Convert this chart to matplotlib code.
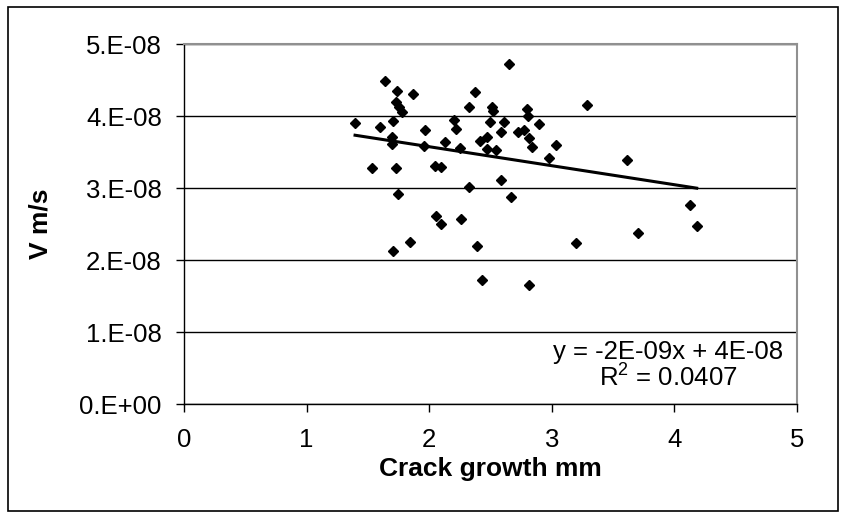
import numpy as np
import matplotlib.pyplot as plt
from matplotlib.ticker import FuncFormatter, MultipleLocator
from matplotlib.patches import Rectangle

# crack growth (mm) and crack velocity (x1e-8 m/s)
crack_growth = [1.639, 1.735, 1.870, 1.727, 1.754, 1.776, 1.395, 1.599, 1.707, 1.966,
                1.694, 1.694, 1.955, 2.131, 1.531, 1.725, 2.047, 2.096, 1.748, 2.058,
                2.099, 1.843, 1.707, 2.374, 2.325, 2.202, 2.216, 2.254, 2.414, 2.325,
                2.257, 2.387, 2.515, 2.523, 2.795, 2.808, 3.290, 2.496, 2.610, 2.896,
                2.586, 2.727, 2.773, 2.474, 2.814, 2.474, 2.542, 2.841, 3.032, 2.977,
                3.616, 2.583, 2.665, 3.195, 3.701, 2.433, 2.814, 4.127, 4.182, 2.650]
velocity_e8 = [4.481, 4.351, 4.306, 4.194, 4.133, 4.050, 3.903, 3.847, 3.935, 3.804,
               3.703, 3.615, 3.588, 3.639, 3.282, 3.282, 3.303, 3.300, 2.917, 2.619,
               2.508, 2.258, 2.133, 4.328, 4.133, 3.939, 3.824, 3.556, 3.657, 3.022,
               2.569, 2.199, 4.133, 4.064, 4.097, 4.004, 4.157, 3.911, 3.917, 3.893,
               3.778, 3.786, 3.810, 3.703, 3.694, 3.546, 3.528, 3.569, 3.592, 3.417,
               3.393, 3.115, 2.875, 2.244, 2.375, 1.722, 1.657, 2.768, 2.481, 4.720]

x = np.array(crack_growth)
y = np.array(velocity_e8) * 1e-8

plt.rcParams['font.family'] = ['Liberation Sans', 'DejaVu Sans']

fig = plt.figure(figsize=(8.45, 5.18), dpi=100)
ax = fig.add_axes([0.2178, 0.2195, 0.7254, 0.6955])

# linear trendline over the data range
slope, intercept = np.polyfit(x, y, 1)
xs = np.array([x.min(), x.max()])
ax.plot(xs, slope * xs + intercept, color='black', lw=2.2, zorder=3)
ax.plot(x, y, 'D', color='black', ms=5, zorder=4)

ax.set_xlim(0, 5)
ax.set_ylim(0, 5e-8)
ax.xaxis.set_major_locator(MultipleLocator(1))
ax.yaxis.set_major_locator(MultipleLocator(1e-8))
ax.yaxis.set_major_formatter(FuncFormatter(lambda v, p: '%#.0E' % v))
ax.grid(axis='y', color='black', lw=1)
ax.set_axisbelow(True)

for s in ['top', 'right']:
    ax.spines[s].set_color('#909090')
    ax.spines[s].set_linewidth(1.5)
for s in ['left', 'bottom']:
    ax.spines[s].set_linewidth(1)

ax.tick_params(axis='both', direction='out', length=6, width=1, labelsize=18.5)
ax.tick_params(axis='y', pad=10)
ax.tick_params(axis='x', pad=11)

ax.set_xlabel('Crack growth mm', fontsize=19, fontweight='bold')
ax.set_ylabel('V m/s', fontsize=19, fontweight='bold')
ax.yaxis.set_label_coords(-0.215, 0.5)
ax.xaxis.set_label_coords(0.5, -0.145)

r2 = np.corrcoef(x, y)[0, 1] ** 2
ax.text(0.79, 0.145, 'y = -2E-09x + 4E-08', transform=ax.transAxes,
        ha='center', va='center', fontsize=18.5)
ax.text(0.79, 0.072, '$\\mathregular{R^2}$ = 0.0407', transform=ax.transAxes,
        ha='center', va='center', fontsize=18.5)

fig.patches.append(Rectangle((0.009, 0.014), 0.983, 0.972, transform=fig.transFigure,
                             fill=False, edgecolor='black', lw=1.2))

fig.savefig('out.png', dpi=100)
print(slope, intercept, r2)
